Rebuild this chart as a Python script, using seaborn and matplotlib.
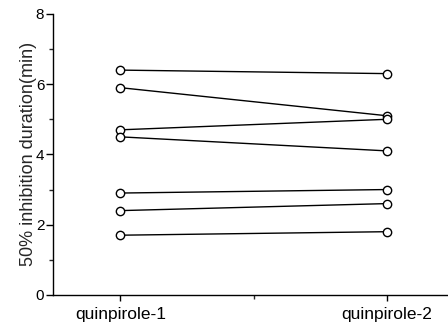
import matplotlib
matplotlib.use('Agg')
import matplotlib.pyplot as plt
import numpy as np
import pandas as pd
import seaborn as sns
from matplotlib.ticker import MultipleLocator, FixedLocator

conditions = ['quinpirole-1', 'quinpirole-2']
first = [6.4, 5.9, 4.7, 4.5, 2.9, 2.4, 1.7]
second = [6.3, 5.1, 5.0, 4.1, 3.0, 2.6, 1.8]

df = pd.DataFrame({
    'subject': list(range(len(first))) * 2,
    'condition': [conditions[0]] * len(first) + [conditions[1]] * len(second),
    'value': first + second,
})

sns.set_style('ticks')
plt.rcParams['font.family'] = ['Liberation Sans', 'DejaVu Sans']

fig = plt.figure(figsize=(4.48, 3.31), dpi=100)
ax = fig.add_axes([0.119, 0.109, 0.881, 0.849])

sns.lineplot(data=df, x='condition', y='value', units='subject', estimator=None,
             color='black', linewidth=1, marker='o', markersize=6,
             markerfacecolor='white', markeredgecolor='black', markeredgewidth=1,
             ax=ax, legend=False)

ax.set_xlim(-0.251, 1.228)
ax.set_ylim(0, 8)
ax.yaxis.set_major_locator(MultipleLocator(2))
ax.yaxis.set_minor_locator(MultipleLocator(1))
ax.xaxis.set_minor_locator(FixedLocator([0.5]))
ax.set_xticks([0, 1])
ax.set_xticklabels(conditions)
ax.tick_params(axis='y', which='major', direction='out', length=5, width=1,
               labelsize=11, pad=1.5, colors='black')
ax.tick_params(axis='x', which='major', direction='out', length=4, width=1,
               labelsize=12.5, pad=5, colors='black')
ax.tick_params(axis='both', which='minor', direction='out', length=3, width=1)
ax.set_xlabel('')
ax.set_ylabel('50% inhibition duration(min)', fontsize=13, labelpad=-1)
ax.spines['top'].set_visible(False)
ax.spines['right'].set_visible(False)
for s in ['left', 'bottom']:
    ax.spines[s].set_linewidth(1)
    ax.spines[s].set_color('black')

fig.savefig('out.png', dpi=100)
